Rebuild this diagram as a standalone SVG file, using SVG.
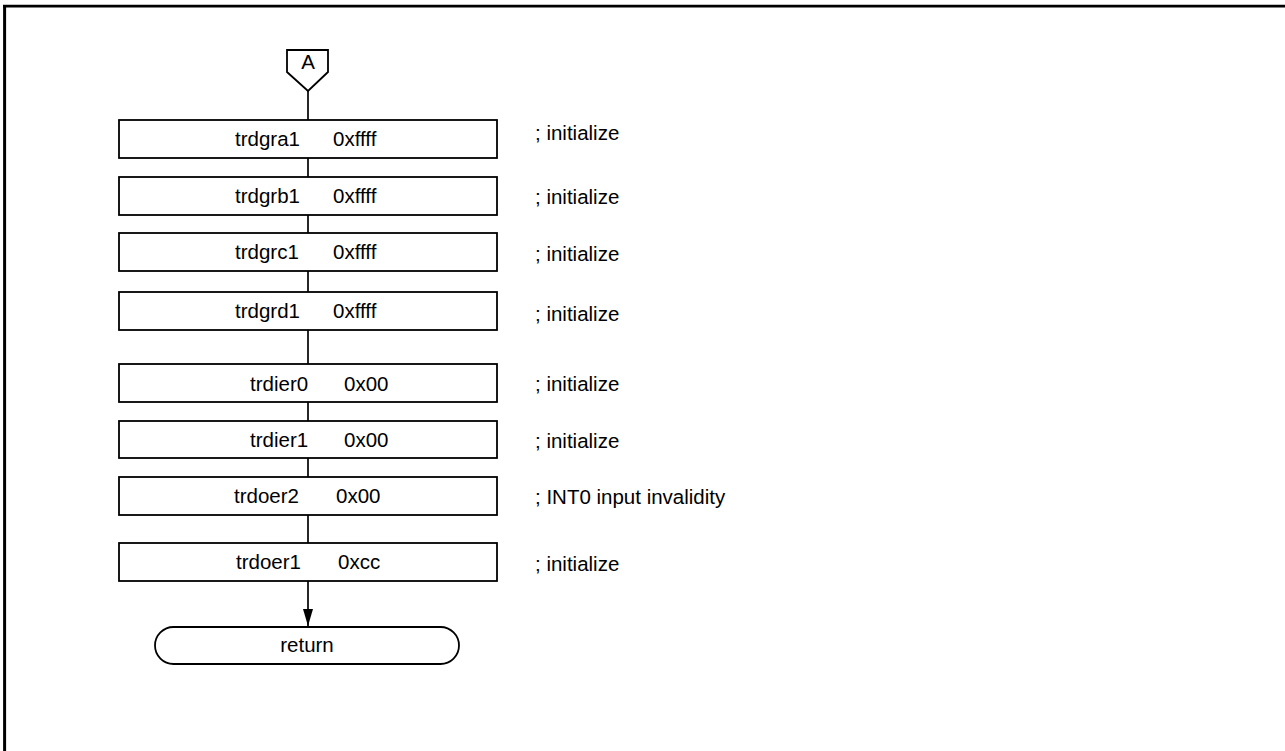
<svg xmlns="http://www.w3.org/2000/svg" width="1285" height="751" viewBox="0 0 1285 751">
<style>
.box{fill:#fff;stroke:#000;stroke-width:1.8}
.ln{stroke:#000;stroke-width:1.7;fill:none}
.t{font-family:"Liberation Sans",Arial,sans-serif;font-size:20.5px;fill:#000}
.c{text-anchor:middle}
</style>
<defs>
<marker id="arr" viewBox="0 0 17 10" refX="17" refY="5" markerWidth="17" markerHeight="10" markerUnits="userSpaceOnUse" orient="auto">
<path d="M0,0 L17,5 L0,10 z" fill="#000"/>
</marker>
</defs>
<rect x="0" y="0" width="1285" height="751" fill="#fff"/>
<g id="frame">
<line x1="3" y1="6.2" x2="1285" y2="6.2" stroke="#000" stroke-width="2.8"/>
<line x1="4.6" y1="5" x2="4.6" y2="751" stroke="#000" stroke-width="3"/>
</g>
<g id="connectors">
<line class="ln" x1="308" y1="91" x2="308" y2="120"/>
<line class="ln" x1="308" y1="158" x2="308" y2="177"/>
<line class="ln" x1="308" y1="215" x2="308" y2="233"/>
<line class="ln" x1="308" y1="271" x2="308" y2="292"/>
<line class="ln" x1="308" y1="330" x2="308" y2="364"/>
<line class="ln" x1="308" y1="402" x2="308" y2="421"/>
<line class="ln" x1="308" y1="458" x2="308" y2="477"/>
<line class="ln" x1="308" y1="515" x2="308" y2="543"/>
<line class="ln" x1="308" y1="581" x2="308" y2="626" marker-end="url(#arr)"/>
</g>
<g id="nodeA">
<polygon class="box" points="287,50 328,50 328,72 308,91 287,72"/>
<text class="t c" x="308" y="69">A</text>
</g>
<g id="n1">
<rect class="box" x="119" y="120" width="378" height="38"/>
<text class="t" x="235" y="146">trdgra1</text><text class="t" x="333" y="146">0xffff</text>
<text class="t" x="535" y="140">; initialize</text>
</g>
<g id="n2">
<rect class="box" x="119" y="177" width="378" height="38"/>
<text class="t" x="235" y="203">trdgrb1</text><text class="t" x="333" y="203">0xffff</text>
<text class="t" x="535" y="204">; initialize</text>
</g>
<g id="n3">
<rect class="box" x="119" y="233" width="378" height="38"/>
<text class="t" x="235" y="259">trdgrc1</text><text class="t" x="333" y="259">0xffff</text>
<text class="t" x="535" y="261">; initialize</text>
</g>
<g id="n4">
<rect class="box" x="119" y="292" width="378" height="38"/>
<text class="t" x="235" y="318">trdgrd1</text><text class="t" x="333" y="318">0xffff</text>
<text class="t" x="535" y="321">; initialize</text>
</g>
<g id="n5">
<rect class="box" x="119" y="364" width="378" height="38"/>
<text class="t" x="250" y="391">trdier0</text><text class="t" x="344" y="391">0x00</text>
<text class="t" x="535" y="391">; initialize</text>
</g>
<g id="n6">
<rect class="box" x="119" y="421" width="378" height="37"/>
<text class="t" x="250" y="447">trdier1</text><text class="t" x="344" y="447">0x00</text>
<text class="t" x="535" y="448">; initialize</text>
</g>
<g id="n7">
<rect class="box" x="119" y="477" width="378" height="38"/>
<text class="t" x="234" y="503">trdoer2</text><text class="t" x="336" y="503">0x00</text>
<text class="t" x="535" y="504">; INT0 input invalidity</text>
</g>
<g id="n8">
<rect class="box" x="119" y="543" width="378" height="38"/>
<text class="t" x="236" y="569">trdoer1</text><text class="t" x="338" y="569">0xcc</text>
<text class="t" x="535" y="571">; initialize</text>
</g>
<g id="ret">
<rect class="box" x="155" y="627" width="304" height="37" rx="18.5" ry="18.5"/>
<text class="t c" x="307" y="652">return</text>
</g>
</svg>
